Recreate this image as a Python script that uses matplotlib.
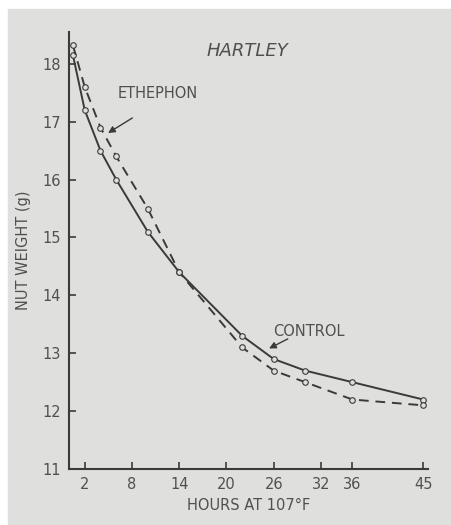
import matplotlib
matplotlib.use("Agg")
import matplotlib.pyplot as plt

# hours at 107 F and nut weight (g)
hours_control = [0.5, 2, 4, 6, 10, 14, 22, 26, 30, 36, 45]
weight_control = [18.15, 17.2, 16.5, 16.0, 15.1, 14.4, 13.3, 12.9, 12.7, 12.5, 12.2]

hours_ethephon = [0.5, 2, 4, 6, 10, 14, 22, 26, 30, 36, 45]
weight_ethephon = [18.32, 17.6, 16.9, 16.4, 15.5, 14.4, 13.1, 12.7, 12.5, 12.2, 12.1]

xticks = [2, 8, 14, 20, 26, 32, 36, 45]
yticks = [11, 12, 13, 14, 15, 16, 17, 18]

bg = "#dfdfdd"
ink = "#3a3a3a"
txt = "#505050"

fig = plt.figure(figsize=(4.51, 5.25), dpi=100)
fig.patch.set_facecolor("white")
fig.patches.append(plt.Rectangle((8 / 451, 0), 1, 1 - 9 / 525,
                                 transform=fig.transFigure, color=bg, zorder=-10))
ax = fig.add_axes([69 / 451, 1 - 469 / 525, (428 - 69) / 451, (469 - 32) / 525])
ax.set_facecolor(bg)

ax.plot(hours_control, weight_control, "-", color=ink, lw=1.4,
        marker="o", ms=4, mfc=bg, mec=ink, mew=0.8)
ax.plot(hours_ethephon, weight_ethephon, color=ink, lw=1.4, dashes=(5, 3.5),
        marker="o", ms=4, mfc=bg, mec=ink, mew=0.8)

ax.set_xlim(0, 45.6)
ax.set_ylim(11, 18.55)
ax.set_xticks(xticks)
ax.set_yticks(yticks)
ax.tick_params(direction="in", length=5, width=1.2, color=ink, labelcolor=txt,
               labelsize=10.5, pad=6)
for s in ["top", "right"]:
    ax.spines[s].set_visible(False)
for s in ["left", "bottom"]:
    ax.spines[s].set_color(ink)
    ax.spines[s].set_linewidth(1.5)

ax.set_xlabel("HOURS AT 107°F", color=txt, fontsize=10.5, labelpad=4)
ax.set_ylabel("NUT WEIGHT (g)", color=txt, fontsize=10.5, labelpad=8)

ax.text(22.6, 18.22, "HARTLEY", style="italic", fontsize=13, color=txt,
        ha="center", va="center")
ax.text(11.3, 17.48, "ETHEPHON", fontsize=10.5, color=txt, ha="center", va="center")
ax.annotate("", xy=(4.66, 16.78), xytext=(8.35, 17.09),
            arrowprops=dict(arrowstyle="-|>", color=ink, lw=1, mutation_scale=10))
ax.text(30.5, 13.38, "CONTROL", fontsize=10.5, color=txt, ha="center", va="center")
ax.annotate("", xy=(25.1, 13.06), xytext=(28.1, 13.27),
            arrowprops=dict(arrowstyle="-|>", color=ink, lw=1, mutation_scale=10))

fig.savefig("out.png", dpi=100, facecolor=fig.get_facecolor())
